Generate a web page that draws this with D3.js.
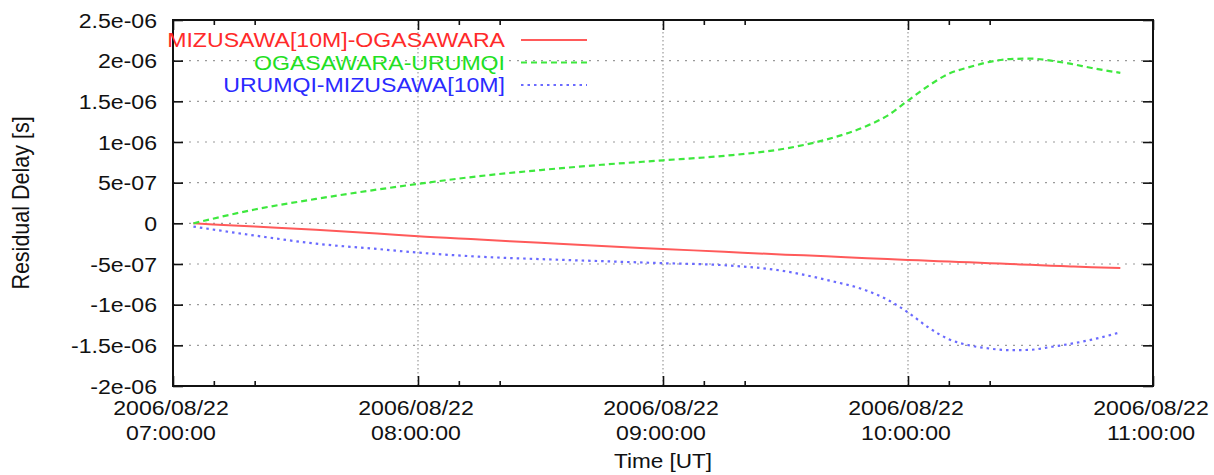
<!DOCTYPE html>
<html>
<head>
<meta charset="utf-8">
<script src="https://cdn.jsdelivr.net/npm/d3@7"></script>
<style>
  html, body { margin: 0; padding: 0; background: #fff; }
  svg { display: block; }
  text { font-family: "Liberation Sans", Arial, Helvetica, sans-serif; fill: #111; }
</style>
</head>
<body>
<svg id="chart" width="1214" height="475"></svg>
<script>
// Sample times (UT, 2006/08/22) shared by all three baselines
const sampleTimes = ["07:05","07:20","07:35","07:50","08:00","08:15","08:30","08:45",
  "09:00","09:15","09:30","09:40","09:50","09:55","10:00","10:05","10:10","10:15",
  "10:20","10:25","10:30","10:35","10:40","10:45","10:52"];

// Residual delay in units of 1e-7 s
const mizOga = [0, -0.4, -0.78, -1.25, -1.6, -2.0, -2.4, -2.8,
  -3.15, -3.5, -3.85, -4.05, -4.3, -4.4, -4.5, -4.6, -4.7, -4.8,
  -4.9, -5.0, -5.1, -5.2, -5.3, -5.4, -5.5];
const ogaUru = [0, 1.7, 3.0, 4.15, 4.85, 5.8, 6.55, 7.2,
  7.75, 8.3, 9.2, 10.3, 12.0, 13.25, 15.1, 16.9, 18.4, 19.2,
  19.85, 20.2, 20.25, 20.0, 19.6, 19.1, 18.5];
const uruMiz = [-0.4, -1.5, -2.5, -3.15, -3.6, -4.1, -4.4, -4.65,
  -4.9, -5.15, -5.9, -6.95, -8.3, -9.4, -10.95, -12.8, -14.25, -15.0,
  -15.4, -15.6, -15.55, -15.2, -14.8, -14.3, -13.4];

const seriesNames = ["MIZUSAWA[10M]-OGASAWARA", "OGASAWARA-URUMQI", "URUMQI-MIZUSAWA[10M]"];

// Axis ticks
const yTickValues = [-2e-6, -1.5e-6, -1e-6, -5e-7, 0, 5e-7, 1e-6, 1.5e-6, 2e-6, 2.5e-6];
const yTickLabels = ["-2e-06", "-1.5e-06", "-1e-06", "-5e-07", "0", "5e-07", "1e-06", "1.5e-06", "2e-06", "2.5e-06"];
const xTickTimes = ["07:00", "08:00", "09:00", "10:00", "11:00"];
const xTickDate = "2006/08/22";
const xMinorTimes = ["07:10","07:20","08:10","08:20","09:10","09:20","10:10","10:20"];

const parseT = s => new Date(Date.UTC(2006, 7, 22, +s.slice(0, 2), +s.slice(3, 5)));

const plot = { left: 173, right: 1153, top: 20, bottom: 386 };
const STRETCH = 1.1;
const FONT = 21;

const svg = d3.select("#chart");

const x = d3.scaleUtc()
  .domain([parseT("07:00"), parseT("11:00")])
  .range([plot.left, plot.right]);
const y = d3.scaleLinear()
  .domain([-2e-6, 2.5e-6])
  .range([plot.bottom, plot.top]);

// Grid: dotted grey lines at interior major ticks
const grid = svg.append("g").attr("class", "grid");
grid.selectAll("line.h")
  .data(yTickValues.filter(v => v > -2e-6 && v < 2.5e-6))
  .join("line")
  .attr("x1", plot.left).attr("x2", plot.right)
  .attr("y1", d => y(d)).attr("y2", d => y(d))
  .attr("stroke", "#9a9a9a").attr("stroke-width", 1.2)
  .attr("stroke-dasharray", "2,6");
grid.selectAll("line.v")
  .data(xTickTimes.slice(1, -1).map(parseT))
  .join("line")
  .attr("x1", d => x(d)).attr("x2", d => x(d))
  .attr("y1", plot.top).attr("y2", plot.bottom)
  .attr("stroke", "#9a9a9a").attr("stroke-width", 1.2)
  .attr("stroke-dasharray", "1.5,2.5");

// Axes: ticks pointing inward on all four sides
const majorLen = 10, minorLen = 5;
const axisStyle = g => {
  g.select(".domain").remove();
  g.selectAll(".tick line").attr("stroke", "#111").attr("stroke-width", 1.6);
  g.selectAll(".tick text").remove();
};
svg.append("g").attr("transform", `translate(${plot.left},0)`)
  .call(d3.axisLeft(y).tickValues(yTickValues).tickSize(-majorLen)).call(axisStyle);
svg.append("g").attr("transform", `translate(${plot.right},0)`)
  .call(d3.axisRight(y).tickValues(yTickValues).tickSize(-majorLen)).call(axisStyle);
svg.append("g").attr("transform", `translate(0,${plot.bottom})`)
  .call(d3.axisBottom(x).tickValues(xTickTimes.map(parseT)).tickSize(-majorLen)).call(axisStyle);
svg.append("g").attr("transform", `translate(0,${plot.bottom})`)
  .call(d3.axisBottom(x).tickValues(xMinorTimes.map(parseT)).tickSize(-minorLen)).call(axisStyle);
svg.append("g").attr("transform", `translate(0,${plot.top})`)
  .call(d3.axisTop(x).tickValues(xTickTimes.map(parseT)).tickSize(-majorLen)).call(axisStyle);
svg.append("g").attr("transform", `translate(0,${plot.top})`)
  .call(d3.axisTop(x).tickValues(xMinorTimes.map(parseT)).tickSize(-minorLen)).call(axisStyle);

// Plot border
svg.append("rect")
  .attr("x", plot.left).attr("y", plot.top)
  .attr("width", plot.right - plot.left).attr("height", plot.bottom - plot.top)
  .attr("fill", "none").attr("stroke", "#111").attr("stroke-width", 2);

// Tick labels (slightly widened glyphs)
svg.append("g").selectAll("text")
  .data(yTickValues)
  .join("text")
  .attr("transform", d => `translate(157,${y(d) + 7.5}) scale(${STRETCH},1)`)
  .attr("text-anchor", "end")
  .attr("font-size", FONT)
  .text((d, i) => yTickLabels[i]);

const xl = svg.append("g").selectAll("g")
  .data(xTickTimes)
  .join("g")
  .attr("transform", d => `translate(${x(parseT(d)) - 2},0) scale(${STRETCH},1)`);
xl.append("text").attr("y", 415).attr("text-anchor", "middle").attr("font-size", FONT).text(xTickDate);
xl.append("text").attr("y", 440).attr("text-anchor", "middle").attr("font-size", FONT).text(d => d + ":00");

// Axis titles
svg.append("text")
  .attr("transform", `translate(${(plot.left + plot.right) / 2},468) scale(${STRETCH},1)`)
  .attr("text-anchor", "middle").attr("font-size", FONT - 0.5)
  .text("Time [UT]");
svg.append("text")
  .attr("transform", `translate(29,${(plot.top + plot.bottom) / 2}) scale(${STRETCH},1) rotate(-90)`)
  .attr("text-anchor", "middle").attr("font-size", FONT + 0.5)
  .text("Residual Delay [s]");

// Series
const series = [
  { name: seriesNames[0], values: mizOga, line: "#ff5a5a", text: "#ff2a2a", dash: null, width: 2 },
  { name: seriesNames[1], values: ogaUru, line: "#3ee83e", text: "#22e022", dash: "6,4", width: 2.2 },
  { name: seriesNames[2], values: uruMiz, line: "#6a6aff", text: "#2a2aff", dash: "2.5,4", width: 2.2 }
];

const lineGen = d3.line()
  .x(d => x(d.t))
  .y(d => y(d.v))
  .curve(d3.curveMonotoneX);

svg.append("g").selectAll("path")
  .data(series)
  .join("path")
  .attr("d", s => lineGen(sampleTimes.map((t, i) => ({ t: parseT(t), v: s.values[i] * 1e-7 }))))
  .attr("fill", "none")
  .attr("stroke", s => s.line)
  .attr("stroke-width", s => s.width)
  .attr("stroke-dasharray", s => s.dash);

// Legend
const leg = svg.append("g").selectAll("g")
  .data(series)
  .join("g")
  .attr("transform", (d, i) => `translate(0,${40 + i * 22.5})`);
leg.append("text")
  .attr("transform", `translate(505,7) scale(${STRETCH},1)`)
  .attr("text-anchor", "end")
  .attr("font-size", FONT)
  .style("fill", d => d.text)
  .text(d => d.name);
leg.append("line")
  .attr("x1", 521).attr("x2", 587).attr("y1", 0).attr("y2", 0)
  .attr("stroke", d => d.line)
  .attr("stroke-width", d => d.width)
  .attr("stroke-dasharray", d => d.dash);
</script>
</body>
</html>
